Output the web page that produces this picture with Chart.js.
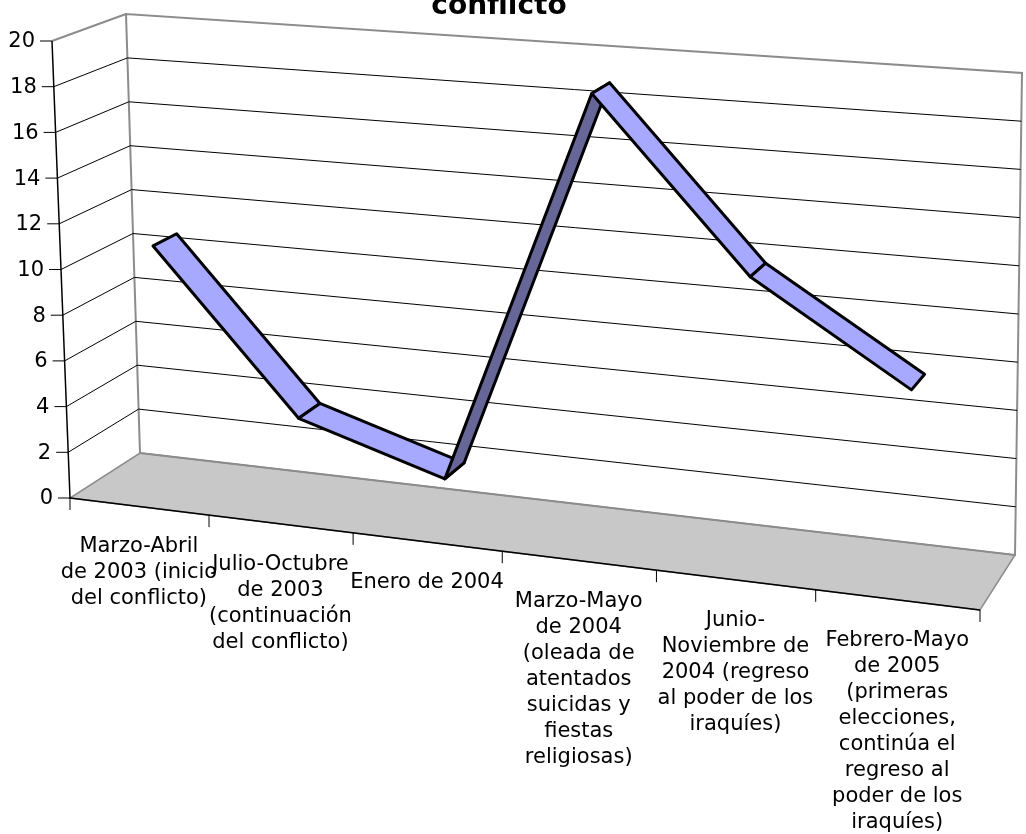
<!DOCTYPE html>
<html>
<head>
<meta charset="utf-8">
<script src="https://cdn.jsdelivr.net/npm/chart.js@4.4.1/dist/chart.umd.min.js"></script>
<style>
  html, body { margin: 0; padding: 0; background: #fff; }
  .chart-container { width: 1026px; height: 834px; position: relative; }
</style>
</head>
<body>
<div class="chart-container"><canvas id="chartCanvas"></canvas></div>
<script>
// Dati del grafico
const titleText = 'conflicto';
const categories = [
    ['Marzo-Abril', 'de 2003 (inicio', 'del conflicto)'],
    ['Julio-Octubre', 'de 2003', '(continuación', 'del conflicto)'],
    ['Enero de 2004'],
    ['Marzo-Mayo', 'de 2004', '(oleada de', 'atentados', 'suicidas y', 'fiestas', 'religiosas)'],
    ['Junio-', 'Noviembre de', '2004 (regreso', 'al poder de los', 'iraquíes)'],
    ['Febrero-Mayo', 'de 2005', '(primeras', 'elecciones,', 'continúa el', 'regreso al', 'poder de los', 'iraquíes)']
];
const values = [10.8, 3.9, 2, 18.9, 11.8, 7.8];
const yMin = 0;
const yMax = 20;
const yStep = 2;

const FONT = '"DejaVu Sans", Verdana, sans-serif';

// Disegna la scatola 3D (pavimento, pareti, griglia, assi) e il nastro della serie
const box3d = {
    id: 'box3d',
    beforeDatasetsDraw(chart) {
        const { ctx, chartArea: a, scales } = chart;
        const xs = scales.x, ys = scales.y;
        const L = a.left, R = a.right, T = a.top, B = a.bottom;

        // angoli della scatola in prospettiva
        const FBL = [L, B], FTL = [L - 18, T], FBR = [R, B + 112], FTR = [R + 6, B - 392];
        const BBL = [L + 70, B - 45], BTL = [L + 56, T - 27], BBR = [R + 35, B + 57], BTR = [R + 42, T + 32];

        const lerp = (p, q, t) => [p[0] + (q[0] - p[0]) * t, p[1] + (q[1] - p[1]) * t];
        const warp = u => u * (0.9 + 0.1 * u);
        // u: posizione orizzontale (0..1), v: valore (0..1), w: profondità (0 davanti, 1 dietro)
        const P = (u, v, w) => {
            const k = warp(u);
            const front = lerp(lerp(FBL, FBR, k), lerp(FTL, FTR, k), v);
            const back = lerp(lerp(BBL, BBR, k), lerp(BTL, BTR, k), v);
            return lerp(front, back, w);
        };
        const uOf = idx => (xs.getPixelForValue(idx) - L) / (R - L);
        const vOf = val => (B - ys.getPixelForValue(val)) / (B - T);

        const poly = (pts, fill, stroke, lw) => {
            ctx.beginPath();
            ctx.moveTo(pts[0][0], pts[0][1]);
            for (let i = 1; i < pts.length; i++) ctx.lineTo(pts[i][0], pts[i][1]);
            ctx.closePath();
            if (fill) { ctx.fillStyle = fill; ctx.fill(); }
            if (stroke) { ctx.strokeStyle = stroke; ctx.lineWidth = lw; ctx.stroke(); }
        };
        const line = (p, q, color, lw) => {
            ctx.beginPath();
            ctx.moveTo(p[0], p[1]);
            ctx.lineTo(q[0], q[1]);
            ctx.strokeStyle = color;
            ctx.lineWidth = lw;
            ctx.stroke();
        };

        ctx.save();
        ctx.lineJoin = 'miter';

        // pavimento
        poly([P(0, 0, 0), P(1, 0, 0), P(1, 0, 1), P(0, 0, 1)], '#c8c8c8', '#8c8c8c', 1.5);

        // pareti
        poly([P(0, 0, 1), P(1, 0, 1), P(1, 1, 1), P(0, 1, 1)], null, '#8c8c8c', 2);
        line(P(0, 1, 0), P(0, 1, 1), '#8c8c8c', 2);

        // griglia
        ys.ticks.forEach(t => {
            if (t.value === yMin || t.value === yMax) return;
            const v = vOf(t.value);
            line(P(0, v, 0), P(0, v, 1), '#000', 1);
            line(P(0, v, 1), P(1, v, 1), '#000', 1);
        });

        // asse X
        line(P(0, 0, 0), P(1, 0, 0), '#000', 1.5);
        for (let k = 0; k <= categories.length; k++) {
            const p = P(uOf(k - 0.5), 0, 0);
            line(p, [p[0], p[1] + 12], '#000', 1);
        }

        // asse Y
        line(P(0, 0, 0), P(0, 1, 0), '#000', 1.5);
        ctx.font = '21px ' + FONT;
        ctx.fillStyle = '#000';
        ctx.textAlign = 'right';
        ctx.textBaseline = 'middle';
        ys.ticks.forEach(t => {
            const p = P(0, vOf(t.value), 0);
            line([p[0] - 12, p[1]], p, '#000', 1);
            ctx.fillText(String(t.value), p[0] - 17, p[1] + 1);
        });

        // etichette categorie
        ctx.textAlign = 'center';
        ctx.textBaseline = 'alphabetic';
        categories.forEach((lines, i) => {
            const p = P(uOf(i), 0, 0);
            lines.forEach((txt, j) => {
                ctx.fillText(txt, p[0], p[1] + 46 + j * 26);
            });
        });

        // nastro della serie
        const wf = 0.33, wb = 0.67;
        ctx.lineJoin = 'round';
        for (let i = 0; i < values.length - 1; i++) {
            const u0 = uOf(i), u1 = uOf(i + 1);
            const v0 = vOf(values[i]), v1 = vOf(values[i + 1]);
            const a0 = P(u0, v0, wf), a1 = P(u1, v1, wf), b1 = P(u1, v1, wb), b0 = P(u0, v0, wb);
            const ax = a1[0] - a0[0], ay = a1[1] - a0[1];
            const bx = b0[0] - a0[0], by = b0[1] - a0[1];
            const under = ax * by - ay * bx > 0;
            poly([a0, a1, b1, b0], under ? '#666699' : '#a6a9ff', '#000', 3);
        }

        // titolo
        ctx.font = 'bold 28px ' + FONT;
        ctx.fillStyle = '#000';
        ctx.textAlign = 'center';
        ctx.textBaseline = 'alphabetic';
        ctx.fillText(titleText, 499, 14);

        ctx.restore();
    }
};

const chart = new Chart(document.getElementById('chartCanvas'), {
    type: 'line',
    data: {
        labels: categories,
        datasets: [{
            label: titleText,
            data: values,
            borderWidth: 0,
            pointRadius: 0,
            showLine: false
        }]
    },
    options: {
        responsive: true,
        maintainAspectRatio: false,
        animation: false,
        layout: { padding: { left: 70, right: 46, top: 41, bottom: 336 } },
        plugins: {
            legend: { display: false },
            title: { display: false },
            tooltip: { enabled: false }
        },
        scales: {
            x: { type: 'category', offset: true, display: false },
            y: { min: yMin, max: yMax, ticks: { stepSize: yStep }, display: false }
        }
    },
    plugins: [box3d]
});
</script>
</body>
</html>
